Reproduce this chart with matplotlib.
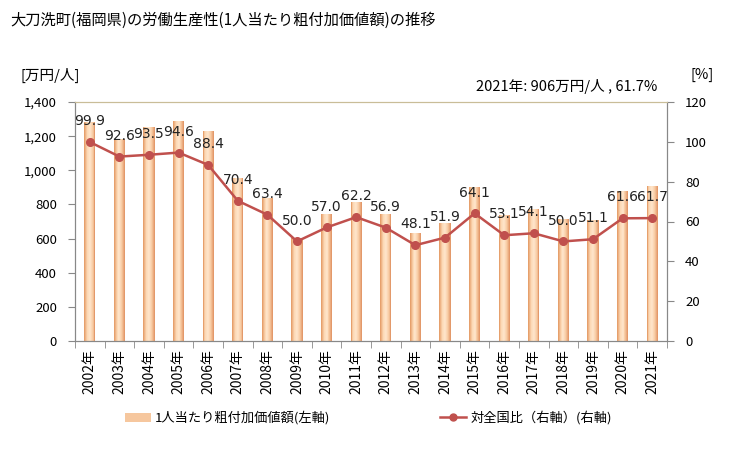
import numpy as np
import matplotlib.pyplot as plt
from matplotlib.colors import LinearSegmentedColormap
from matplotlib.lines import Line2D
from matplotlib.patches import Patch

plt.rcParams['font.family'] = ['Noto Sans CJK JP', 'DejaVu Sans']

# data
years = ['2002年', '2003年', '2004年', '2005年', '2006年', '2007年', '2008年',
         '2009年', '2010年', '2011年', '2012年', '2013年', '2014年', '2015年',
         '2016年', '2017年', '2018年', '2019年', '2020年', '2021年']
value_added = [1284, 1181, 1255, 1290, 1230, 956, 836, 601, 742, 816,
               742, 631, 689, 904, 738, 771, 713, 709, 879, 906]
ratio = [99.9, 92.6, 93.5, 94.6, 88.4, 70.4, 63.4, 50.0, 57.0, 62.2,
         56.9, 48.1, 51.9, 64.1, 53.1, 54.1, 50.0, 51.1, 61.6, 61.7]

fig = plt.figure(figsize=(7.29, 4.5), dpi=100)
ax = fig.add_axes([75 / 729, 1 - 341 / 450, 592 / 729, 239 / 450])
ax2 = ax.twinx()

x = np.arange(len(years))

# gradient bars made from thin strips
cmap = LinearSegmentedColormap.from_list(
    'bar', ['#e6a06c', '#fcd8b4', '#fee5cb', '#f8cca4', '#e3996a'])
bar_w = 0.38
n_strips = 12
strip_w = bar_w / n_strips
for i in range(n_strips):
    off = -bar_w / 2 + (i + 0.5) * strip_w
    ax.bar(x + off, value_added, width=strip_w * 1.02,
           color=cmap(i / (n_strips - 1)), linewidth=0, antialiased=False,
           zorder=2)

ax.set_xlim(-0.5, len(years) - 0.5)
ax.set_ylim(0, 1400)
ax.set_yticks(range(0, 1401, 200))
ax.set_yticklabels([f'{v:,}' for v in range(0, 1401, 200)])
ax.set_xticks(x)
ax.set_xticklabels(years, rotation=90, fontsize=10)
ax.set_xticks(np.arange(-0.5, len(years), 1), minor=True)
ax.tick_params(axis='x', which='major', length=0, pad=6)
ax.tick_params(axis='x', which='minor', length=5, color='#888888')
ax.tick_params(axis='y', length=5, color='#888888', labelsize=9.5, pad=8)

# line on right axis
ax2.plot(x, ratio, color='#c0504d', lw=1.8, marker='o', ms=5.5, zorder=5)
for xi, r in zip(x, ratio):
    ax2.annotate(f'{r:.1f}', (xi, r), xytext=(0, 15), textcoords='offset points',
                 ha='center', va='center', fontsize=10, family='DejaVu Sans',
                 color='#222222')
ax2.set_ylim(0, 120)
ax2.set_yticks(range(0, 121, 20))
ax2.tick_params(axis='y', length=5, color='#888888', labelsize=9.5, pad=8)

for a in (ax, ax2):
    a.spines['left'].set_color('#888888')
    a.spines['right'].set_color('#888888')
    a.spines['bottom'].set_color('#888888')
    a.spines['top'].set_color('#c9bd98')

fig.text(10 / 729, 1 - 20 / 450, '大刀洗町(福岡県)の労働生産性(1人当たり粗付加価値額)の推移',
         fontsize=11, va='center', ha='left')
fig.text(20 / 729, 1 - 75 / 450, '[万円/人]', fontsize=10.5, va='center', ha='left')
fig.text(690 / 729, 1 - 75 / 450, '[%]', fontsize=10.5, va='center', ha='left')
fig.text(657 / 729, 1 - 87 / 450, '2021年: 906万円/人 , 61.7%', fontsize=10.5,
         va='center', ha='right')

handles = [Patch(facecolor='#f6c79e', edgecolor='none'),
           Line2D([], [], color='#c0504d', lw=1.8, marker='o', ms=5)]
fig.legend(handles, ['1人当たり粗付加価値額(左軸)', '対全国比（右軸）(右軸)'],
           loc='center', bbox_to_anchor=(0.505, 1 - 418 / 450), ncol=2,
           frameon=False, fontsize=9.5, columnspacing=8.3, handlelength=2.0,
           handletextpad=0.3)

fig.savefig('out.png', dpi=100)
